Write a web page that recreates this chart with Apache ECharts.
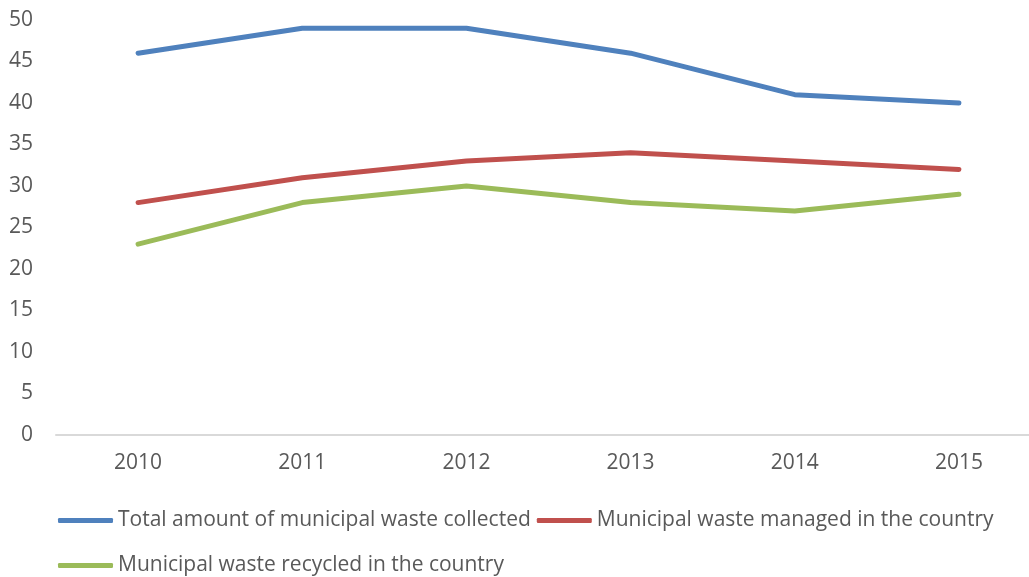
<!DOCTYPE html>
<html>
<head>
<meta charset="utf-8">
<script src="https://cdn.jsdelivr.net/npm/echarts@6/dist/echarts.min.js"></script>
<style>
  html, body { margin: 0; padding: 0; background: #fff; }
  #chart { width: 1029px; height: 577px; }
</style>
</head>
<body>
<div id="chart"></div>
<script>
// Municipal waste indicators, 2010–2015
const years = ['2010', '2011', '2012', '2013', '2014', '2015'];
const seriesNames = [
  'Total amount of municipal waste collected',
  'Municipal waste managed in the country',
  'Municipal waste recycled in the country'
];
const collected = [46, 49, 49, 46, 41, 40];
const managed = [28, 31, 33, 34, 33, 32];
const recycled = [23, 28, 30, 28, 27, 29];
const colors = ['#4F81BD', '#C0504D', '#9BBB59'];

const FONT = '"Open Sans", Lato, sans-serif';
const TEXT = '#595959';

const chart = echarts.init(document.getElementById('chart'), null, { renderer: 'canvas' });

function lineSeries(name, data, color) {
  return {
    name: name,
    type: 'line',
    data: data,
    symbol: 'none',
    smooth: false,
    lineStyle: { color: color, width: 5, cap: 'round', join: 'round' },
    itemStyle: { color: color }
  };
}

const legendCommon = {
  icon: 'roundRect',
  itemWidth: 55,
  itemHeight: 5,
  itemGap: 6,
  textStyle: { color: TEXT, fontSize: 21, fontFamily: FONT },
  padding: 0
};

chart.setOption({
  animation: false,
  color: colors,
  // plot band extends a little past the right edge of the canvas
  grid: { left: 56, width: 985, top: 20, height: 415, outerBoundsMode: 'none', containLabel: false },
  legend: [
    Object.assign({}, legendCommon, { data: [seriesNames[0], seriesNames[1]], left: 58, top: 510 }),
    Object.assign({}, legendCommon, { data: [seriesNames[2]], left: 58, top: 555 })
  ],
  xAxis: {
    type: 'category',
    data: years,
    boundaryGap: true,
    axisLine: { lineStyle: { color: '#D9D9D9', width: 2 } },
    axisTick: { show: false },
    axisLabel: { color: TEXT, fontSize: 21, fontFamily: FONT, margin: 18 },
    splitLine: { show: false }
  },
  yAxis: {
    type: 'value',
    min: 0,
    max: 50,
    interval: 5,
    axisLine: { show: false },
    axisTick: { show: false },
    splitLine: { show: false },
    axisLabel: { color: TEXT, fontSize: 21, fontFamily: FONT, margin: 23 }
  },
  series: [
    lineSeries(seriesNames[0], collected, colors[0]),
    lineSeries(seriesNames[1], managed, colors[1]),
    lineSeries(seriesNames[2], recycled, colors[2])
  ]
});
</script>
</body>
</html>
